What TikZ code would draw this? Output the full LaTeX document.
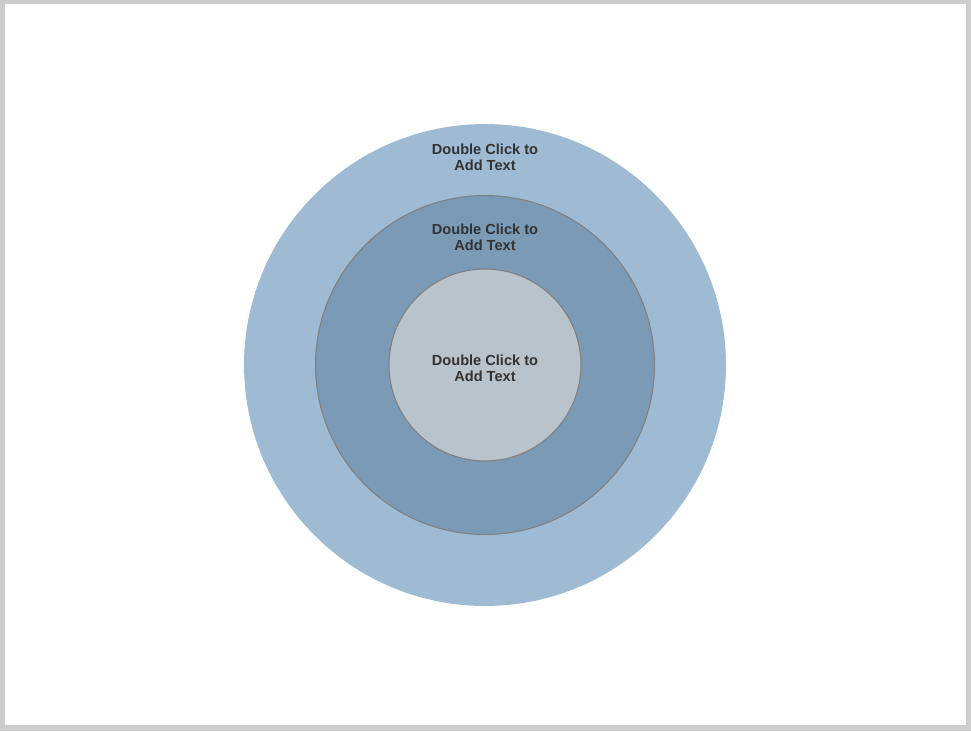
\documentclass[tikz,border=0pt]{standalone}
\usepackage{fontspec}
\setmainfont{Liberation Sans}
\usepackage{xcolor}
\definecolor{anillo}{RGB}{159, 187, 211}
\definecolor{medio}{RGB}{123, 154, 182}
\definecolor{nucleo}{RGB}{185, 195, 204}
\definecolor{borde}{RGB}{128, 128, 128}
\definecolor{marco}{RGB}{204, 204, 204}
\definecolor{texto}{RGB}{51, 51, 51}
\usetikzlibrary{positioning}

\begin{document}
\begin{tikzpicture}[x=0.02cm, y=-0.02cm,
  ring/.style={circle, inner sep=0pt},
  lbl/.style={font=\fontsize{8.3}{9.1}\selectfont\bfseries, text=texto, align=center}
]
  \fill[marco] (0,0) rectangle (971,731);
  \fill[white] (5,4) rectangle (966,725);
  \useasboundingbox (0,0) rectangle (971,731);

  \node[ring, fill=anillo, minimum size=9.64cm] (outer) at (485,365) {};
  \node[ring, fill=medio, draw=borde, line width=0.6pt, minimum size=6.78cm] (mid) at (485,365) {};
  \node[ring, fill=nucleo, draw=borde, line width=0.6pt, minimum size=3.84cm] (core) at (485,365) {};

  \node[lbl] (outertxt) at (485,157) {Double Click to\\Add Text};
  \node[lbl] (midtxt) at (485,237) {Double Click to\\Add Text};
  \node[lbl] (coretxt) at (485,368) {Double Click to\\Add Text};
\end{tikzpicture}
\end{document}
